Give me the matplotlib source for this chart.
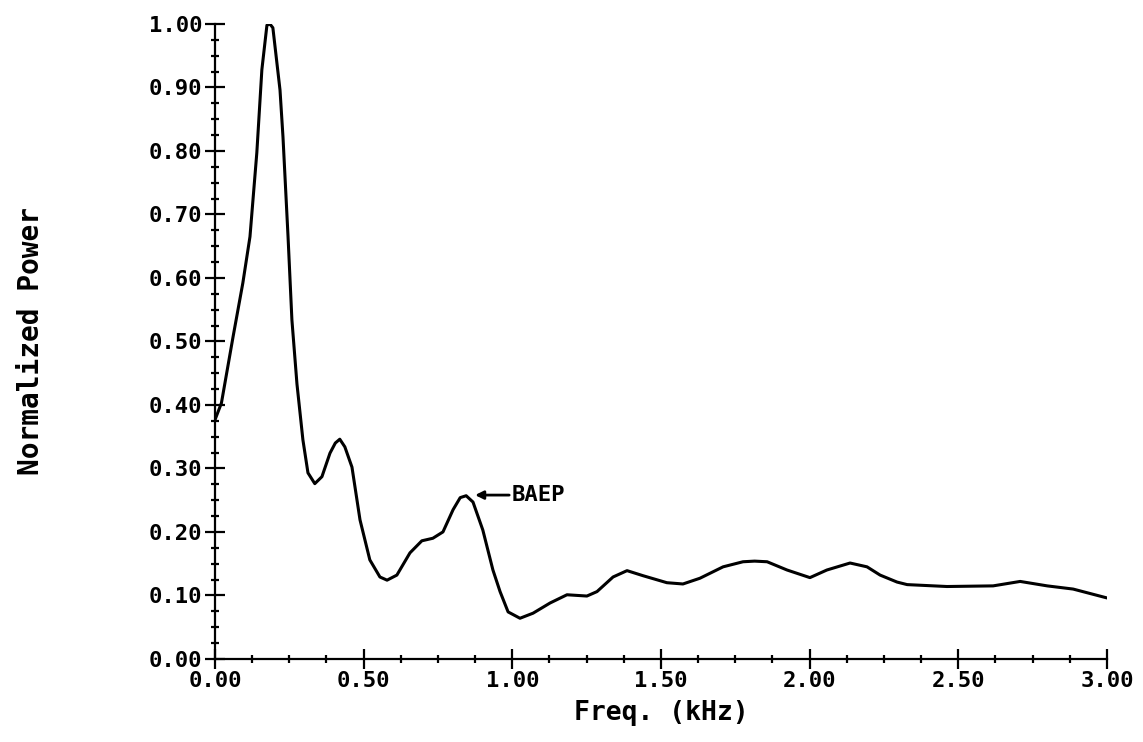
import numpy as np
import matplotlib.pyplot as plt
from matplotlib.ticker import MultipleLocator, FormatStrFormatter

# Spectrum (frequency in kHz, normalized power)
freq = [0.0, 0.022, 0.061, 0.094, 0.118, 0.141, 0.158, 0.175, 0.185, 0.195,
        0.219, 0.229, 0.246, 0.259, 0.276, 0.296, 0.313, 0.336, 0.36, 0.387,
        0.405, 0.42, 0.437, 0.461, 0.488, 0.521, 0.555, 0.579, 0.612, 0.656,
        0.696, 0.733, 0.767, 0.801, 0.825, 0.845, 0.868, 0.901, 0.935, 0.959,
        0.986, 1.026, 1.070, 1.127, 1.184, 1.251, 1.285, 1.339, 1.386, 1.44,
        1.52, 1.574, 1.631, 1.709, 1.776, 1.815, 1.857, 1.924, 2.001, 2.058,
        2.136, 2.193, 2.237, 2.294, 2.328, 2.462, 2.617, 2.708, 2.799, 2.886,
        3.0]
power = [0.376, 0.403, 0.507, 0.592, 0.665, 0.797, 0.928, 0.998, 1.0, 0.994,
         0.896, 0.822, 0.665, 0.534, 0.433, 0.345, 0.293, 0.276, 0.287, 0.324,
         0.340, 0.346, 0.334, 0.302, 0.219, 0.156, 0.129, 0.124, 0.132, 0.167,
         0.186, 0.190, 0.200, 0.235, 0.254, 0.257, 0.247, 0.203, 0.140, 0.106,
         0.074, 0.064, 0.072, 0.088, 0.101, 0.099, 0.106, 0.129, 0.139, 0.131,
         0.120, 0.118, 0.127, 0.145, 0.153, 0.154, 0.153, 0.140, 0.128, 0.140,
         0.151, 0.145, 0.132, 0.121, 0.117, 0.114, 0.115, 0.122, 0.115, 0.110,
         0.096]

plt.rcParams['font.family'] = ['DejaVu Sans Mono']
plt.rcParams['font.weight'] = 'bold'
plt.rcParams['axes.labelweight'] = 'bold'

fig = plt.figure(figsize=(11.43, 7.42), dpi=100)
ax = fig.add_axes([0.188, 0.112, 0.7805, 0.8557])

ax.plot(freq, power, color='black', linewidth=2.2,
        solid_joinstyle='round', solid_capstyle='round')

ax.set_xlim(0, 3.0)
ax.set_ylim(0, 1.0)
ax.spines['top'].set_visible(False)
ax.spines['right'].set_visible(False)
ax.spines['left'].set_linewidth(1.6)
ax.spines['bottom'].set_linewidth(1.6)

ax.xaxis.set_major_locator(MultipleLocator(0.5))
ax.xaxis.set_minor_locator(MultipleLocator(0.125))
ax.yaxis.set_major_locator(MultipleLocator(0.1))
ax.yaxis.set_minor_locator(MultipleLocator(0.025))
ax.xaxis.set_major_formatter(FormatStrFormatter('%.2f'))
ax.yaxis.set_major_formatter(FormatStrFormatter('%.2f'))
ax.tick_params(which='major', direction='inout', length=14, width=1.6,
               labelsize=16, pad=2)
ax.tick_params(which='minor', direction='inout', length=6, width=1.6)

ax.set_xlabel('Freq. (kHz)', fontsize=19, labelpad=6)
ax.set_ylabel('Normalized Power', fontsize=20)
ax.yaxis.set_label_coords(-0.19, 0.5)

ax.annotate('BAEP', xy=(0.875, 0.258), xytext=(0.999, 0.258),
            fontsize=16, va='center', ha='left', fontweight='bold',
            arrowprops=dict(arrowstyle='-|>', color='black', lw=2.0,
                            shrinkA=0, shrinkB=0, mutation_scale=12))

fig.savefig('out.png', dpi=100)
